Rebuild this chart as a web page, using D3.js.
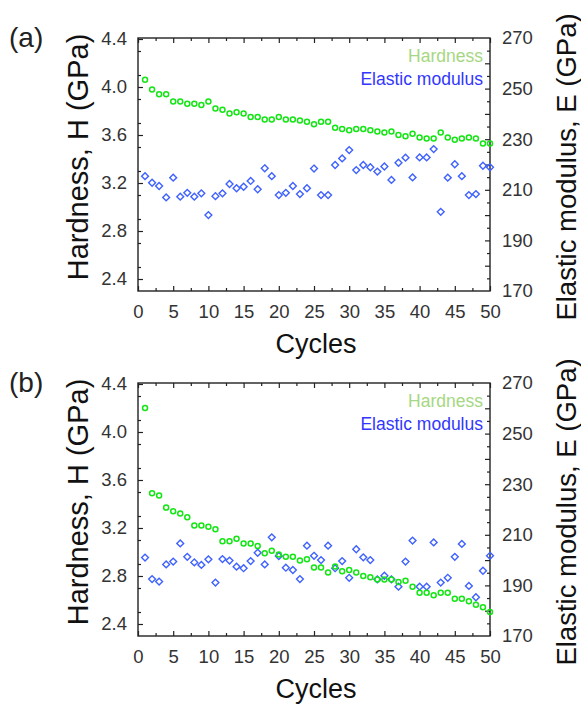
<!DOCTYPE html>
<html lang="en">
<head>
<meta charset="UTF-8">
<title>Hardness and elastic modulus vs cycles</title>
<style>
  body { margin: 0; background: #fff; }
  text { font-family: "Liberation Sans", Arial, sans-serif; }
</style>
</head>
<body>
<script src="https://d3js.org/d3.v7.min.js"></script>
<script>
// cycle numbers (x)
var cycles = [1,2,3,4,5,6,7,8,9,10,11,12,13,14,15,16,17,18,19,20,21,22,23,24,25,
              26,27,28,29,30,31,32,33,34,35,36,37,38,39,40,41,42,43,44,45,46,47,48,49,50];

// panel (a)
var hardnessA = [4.06,3.98,3.94,3.94,3.88,3.88,3.86,3.86,3.85,3.88,3.82,3.81,3.78,3.79,3.78,
                 3.75,3.75,3.73,3.73,3.75,3.73,3.73,3.72,3.71,3.69,3.71,3.71,3.66,3.65,3.64,
                 3.65,3.65,3.64,3.63,3.62,3.63,3.60,3.59,3.61,3.58,3.57,3.57,3.62,3.58,3.56,
                 3.57,3.58,3.57,3.53,3.53];
var modulusA = [215.4,212.8,211.5,207.0,214.8,207.3,208.8,207.3,208.6,200.0,207.5,208.6,212.3,
                210.6,211.2,213.5,210.2,218.5,215.4,207.9,208.8,211.5,208.3,210.6,218.4,207.9,
                207.9,219.8,222.4,225.7,217.8,219.8,218.9,217.2,219.2,213.9,220.7,222.7,214.9,
                222.8,222.8,226.1,201.3,214.8,220.1,215.4,207.9,208.3,219.5,218.9];

// panel (b)
var hardnessB = [4.20,3.49,3.47,3.37,3.34,3.32,3.29,3.22,3.22,3.21,3.19,3.09,3.09,3.11,3.07,
                 3.07,3.05,2.99,3.01,2.98,2.96,2.96,2.93,2.94,2.87,2.87,2.83,2.88,2.84,2.85,
                 2.83,2.80,2.79,2.77,2.77,2.77,2.75,2.76,2.71,2.66,2.66,2.64,2.66,2.66,2.61,
                 2.61,2.59,2.56,2.54,2.50];
var modulusB = [201.0,192.5,191.5,198.3,199.4,206.6,201.3,199.1,198.1,200.3,191.1,200.4,199.8,
                197.4,196.8,199.6,202.9,198.3,209.0,201.6,197.0,196.1,192.5,205.7,201.7,200.0,
                205.7,196.8,199.6,193.0,204.3,201.1,200.0,192.4,193.8,192.4,189.5,199.4,207.7,
                189.5,189.5,207.0,191.1,193.0,201.3,206.4,189.8,185.3,195.8,201.7];

// tick labels
var xTicks = [0,5,10,15,20,25,30,35,40,45,50];
var hTicks = [2.4,2.8,3.2,3.6,4.0,4.4];
var eTicks = [170,190,210,230,250,270];

var width = 581, height = 708;
var left = 138, right = 490, frameH = 253;

var svg = d3.select("body").append("svg")
    .attr("width", width)
    .attr("height", height);

function drawPanel(top, tag, hard, mod) {
    var g = svg.append("g");
    var bottom = top + frameH;

    var x = d3.scaleLinear().domain([0, 50]).range([left, right]);
    var yH = d3.scaleLinear().domain([2.4, 4.4]).range([top + 241, top + 1]);
    var yE = d3.scaleLinear().domain([170, 270]).range([bottom, top]);

    // frame
    g.append("rect")
        .attr("x", left).attr("y", top)
        .attr("width", right - left).attr("height", frameH)
        .attr("fill", "none").attr("stroke", "#222").attr("stroke-width", 1.4);

    // inward tick marks (major + minor)
    function ticks(axis, pos, vals, len) {
        var a = g.append("g").attr("transform", pos)
            .call(axis.tickValues(vals).tickSize(-len).tickFormat(""));
        a.select(".domain").remove();
        a.selectAll("line").attr("stroke", "#222").attr("stroke-width", 1.2);
    }
    var xMaj = d3.range(0, 51, 5), xMin = d3.range(2.5, 50, 5);
    ticks(d3.axisBottom(x), "translate(0," + bottom + ")", xMaj, 5);
    ticks(d3.axisBottom(x), "translate(0," + bottom + ")", xMin, 3);
    ticks(d3.axisTop(x), "translate(0," + top + ")", xMaj, 5);
    ticks(d3.axisTop(x), "translate(0," + top + ")", xMin, 3);
    var hMaj = d3.range(12, 23, 2).map(function(d) { return d / 5; });
    var hMin = d3.range(25, 44, 2).map(function(d) { return d / 10; });
    ticks(d3.axisLeft(yH), "translate(" + left + ",0)", hMaj, 5);
    ticks(d3.axisLeft(yH), "translate(" + left + ",0)", hMin, 3);
    ticks(d3.axisRight(yE), "translate(" + right + ",0)", d3.range(180, 270, 10), 5);
    ticks(d3.axisRight(yE), "translate(" + right + ",0)", d3.range(175, 270, 10), 3);

    // tick labels
    function labels(sel) {
        sel.select(".domain").remove();
        sel.attr("font-family", null).attr("font-size", null);
        sel.selectAll("text").attr("fill", "#333").style("font-size", "18.5px");
    }
    g.append("g").attr("transform", "translate(0," + bottom + ")")
        .call(d3.axisBottom(x).tickValues(xTicks).tickSize(0).tickPadding(14))
        .call(labels);
    g.append("g").attr("transform", "translate(" + left + ",0)")
        .call(d3.axisLeft(yH).tickValues(hTicks).tickFormat(d3.format(".1f")).tickSize(0).tickPadding(11))
        .call(labels);
    g.append("g").attr("transform", "translate(" + right + ",0)")
        .call(d3.axisRight(yE).tickValues(eTicks).tickSize(0).tickPadding(12))
        .call(labels);

    // axis titles
    g.append("text")
        .attr("transform", "translate(88," + (top + 119) + ") rotate(-90)")
        .attr("text-anchor", "middle")
        .style("font-size", "29px").attr("fill", "#111")
        .text("Hardness, H (GPa)");
    g.append("text")
        .attr("transform", "translate(576," + (top + 129) + ") rotate(-90)")
        .attr("text-anchor", "middle")
        .style("font-size", "27.5px").attr("fill", "#111")
        .text("Elastic modulus, E (GPa)");
    g.append("text")
        .attr("x", 316).attr("y", bottom + 62)
        .attr("text-anchor", "middle")
        .style("font-size", "27px").attr("fill", "#111")
        .text("Cycles");
    g.append("text")
        .attr("x", 9).attr("y", top + 9)
        .style("font-size", "28px").attr("fill", "#222")
        .text(tag);

    // legend
    g.append("text")
        .attr("x", 483).attr("y", top + 24)
        .attr("text-anchor", "end")
        .style("font-size", "17.5px").attr("fill", "#a6d783")
        .text("Hardness");
    g.append("text")
        .attr("x", 483).attr("y", top + 47)
        .attr("text-anchor", "end")
        .style("font-size", "17.5px").attr("fill", "#3236ff")
        .text("Elastic modulus");

    // elastic modulus: open diamonds
    var diamond = d3.symbol().type(d3.symbolDiamond2).size(30);
    g.append("g").selectAll("path")
        .data(cycles)
        .enter().append("path")
        .attr("d", diamond)
        .attr("transform", function(c, i) { return "translate(" + x(c) + "," + yE(mod[i]) + ")"; })
        .attr("fill", "none")
        .attr("stroke", "#3f62ff")
        .attr("stroke-width", 1.4);

    // hardness: open circles
    g.append("g").selectAll("circle")
        .data(cycles)
        .enter().append("circle")
        .attr("cx", function(c) { return x(c); })
        .attr("cy", function(c, i) { return yH(hard[i]); })
        .attr("r", 2.5)
        .attr("fill", "none")
        .attr("stroke", "#14e514")
        .attr("stroke-width", 1.5);
}

drawPanel(38, "(a)", hardnessA, modulusA);
drawPanel(383, "(b)", hardnessB, modulusB);
</script>
</body>
</html>
